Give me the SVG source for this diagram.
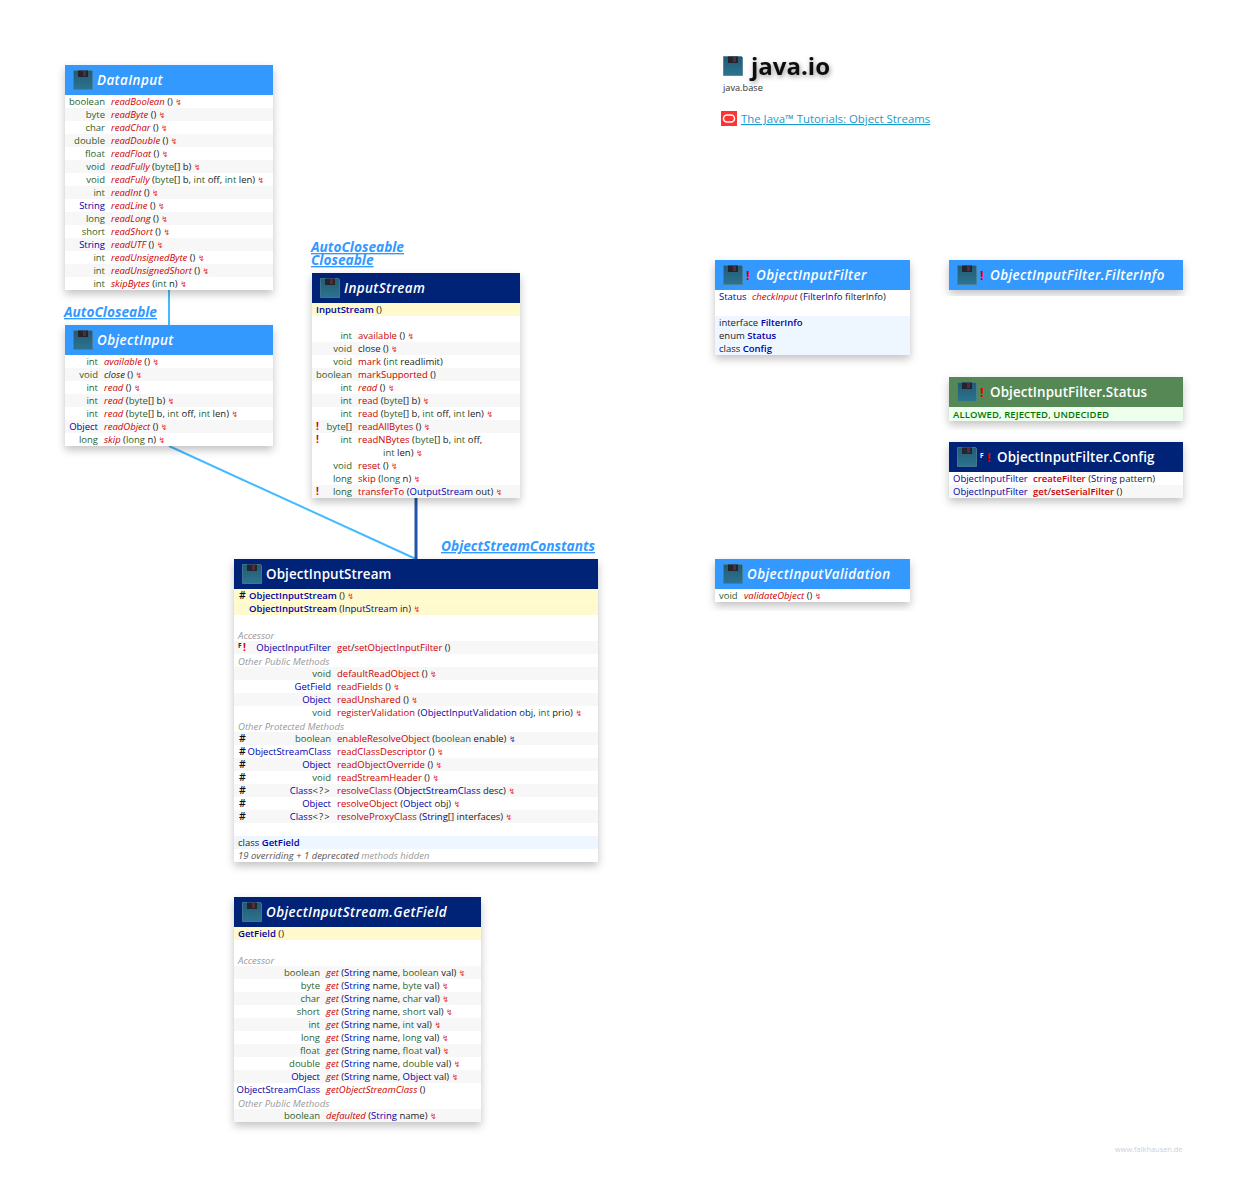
<svg xmlns="http://www.w3.org/2000/svg" width="1239" height="1195" viewBox="0 0 1239 1195">
<style>
text{font-family:"Open Sans","Noto Sans","Liberation Sans",sans-serif;font-size:9.5px;fill:#222}
.t{fill:#2b632b;text-anchor:end}.r{fill:#0000aa}.re{fill:#0000aa;text-anchor:end}
tspan.t{text-anchor:start}
.m{fill:#cc0000}.i{font-style:italic}.b{font-weight:600}
.g{fill:#2b632b}
.z{fill:#e8333c;font-family:"DejaVu Sans",sans-serif;font-size:8px}
.zb{fill:#3344aa;font-family:"DejaVu Sans",sans-serif;font-size:8px}
.h{font-size:13.4px;font-weight:600;fill:#fff;letter-spacing:.1px}
.h.i{letter-spacing:.42px}
.ex{font-size:12px;font-weight:700;fill:#e00000}
.c{fill:#999;font-style:italic;font-size:9.6px}
.l{font-size:13.7px;font-weight:700;font-style:italic;fill:#3399ff;text-decoration:underline}
.s{fill:#f7f7f7}.y{fill:#fffacd}.n{fill:#eef6ff}
.hash{font-size:10.5px;font-weight:600;fill:#111}
.lb{fill:#3399ff}.dk{fill:#002277}.gr{fill:#558855}
.box{fill:#fff;filter:url(#sh)}
.sp{letter-spacing:1.2px}
</style>
<defs>
<filter id="sh" x="-15%" y="-15%" width="130%" height="135%"><feDropShadow dx="0" dy="4" stdDeviation="4" flood-color="#000" flood-opacity=".24"/></filter>
<filter id="ts" x="-20%" y="-40%" width="140%" height="200%"><feDropShadow dx="1" dy="2" stdDeviation="2.5" flood-color="#000" flood-opacity=".4"/></filter>
<linearGradient id="fl" x1="0" y1="0" x2="0" y2="1"><stop offset="0" stop-color="#235a74"/><stop offset="1" stop-color="#2c7490"/></linearGradient>
<symbol id="disk" viewBox="0 0 20 20" overflow="visible">
<path d="M0.5 0.5H18.5L19.5 1.5V19.5H0.5Z" fill="url(#fl)" stroke="#4d7f92" stroke-width=".8"/>
<rect x="5" y="0.5" width="10" height="6.5" fill="#24242f"/>
<rect x="10" y="1" width="3" height="5" fill="#5a2a3a"/>
</symbol>
</defs>

<g id="connectors" fill="none">
<line x1="169" y1="290" x2="169" y2="325" stroke="#44bbff" stroke-width="2"/>
<line x1="169" y1="446" x2="416" y2="559" stroke="#44bbff" stroke-width="2"/>
<line x1="416" y1="498" x2="416" y2="559" stroke="#2255aa" stroke-width="3"/>
</g>

<g id="title">
<use href="#disk" x="723" y="56" width="20" height="20"/>
<text x="751" y="75" style="font-size:24px;font-weight:700;fill:#111;filter:url(#ts)">java.io</text>
<text x="723" y="91" style="font-size:9.2px;fill:#333">java.base</text>
<rect x="721" y="111" width="16" height="15" fill="#f33"/>
<rect x="723.5" y="115" width="11" height="7" rx="3.5" fill="none" stroke="#fff" stroke-width="1.5"/>
<text x="741" y="123" style="font-size:11.4px;fill:#1a9acc;text-decoration:underline">The Java™ Tutorials: Object Streams</text>
</g>

<g id="DataInput">
<rect class="box" x="65" y="65" width="208" height="225"/>
<rect class="lb" x="65" y="65" width="208" height="30"/>
<use href="#disk" x="73" y="70" width="20" height="20"/>
<text class="h i" x="97" y="85">DataInput</text>
<rect class="s" x="65" y="108" width="208" height="13"/><rect class="s" x="65" y="134" width="208" height="13"/><rect class="s" x="65" y="160" width="208" height="13"/><rect class="s" x="65" y="186" width="208" height="13"/><rect class="s" x="65" y="212" width="208" height="13"/><rect class="s" x="65" y="238" width="208" height="13"/><rect class="s" x="65" y="264" width="208" height="13"/>
<text class="t" x="105" y="105">boolean</text><text x="111" y="105"><tspan class="m i">readBoolean</tspan> () <tspan class="z">↯</tspan></text>
<text class="t" x="105" y="118">byte</text><text x="111" y="118"><tspan class="m i">readByte</tspan> () <tspan class="z">↯</tspan></text>
<text class="t" x="105" y="131">char</text><text x="111" y="131"><tspan class="m i">readChar</tspan> () <tspan class="z">↯</tspan></text>
<text class="t" x="105" y="144">double</text><text x="111" y="144"><tspan class="m i">readDouble</tspan> () <tspan class="z">↯</tspan></text>
<text class="t" x="105" y="157">float</text><text x="111" y="157"><tspan class="m i">readFloat</tspan> () <tspan class="z">↯</tspan></text>
<text class="t" x="105" y="170">void</text><text x="111" y="170"><tspan class="m i">readFully</tspan> (<tspan class="g">byte</tspan>[] b) <tspan class="z">↯</tspan></text>
<text class="t" x="105" y="183">void</text><text x="111" y="183"><tspan class="m i">readFully</tspan> (<tspan class="g">byte</tspan>[] b, <tspan class="g">int</tspan> off, <tspan class="g">int</tspan> len) <tspan class="z">↯</tspan></text>
<text class="t" x="105" y="196">int</text><text x="111" y="196"><tspan class="m i">readInt</tspan> () <tspan class="z">↯</tspan></text>
<text class="re" x="105" y="209">String</text><text x="111" y="209"><tspan class="m i">readLine</tspan> () <tspan class="z">↯</tspan></text>
<text class="t" x="105" y="222">long</text><text x="111" y="222"><tspan class="m i">readLong</tspan> () <tspan class="z">↯</tspan></text>
<text class="t" x="105" y="235">short</text><text x="111" y="235"><tspan class="m i">readShort</tspan> () <tspan class="z">↯</tspan></text>
<text class="re" x="105" y="248">String</text><text x="111" y="248"><tspan class="m i">readUTF</tspan> () <tspan class="z">↯</tspan></text>
<text class="t" x="105" y="261">int</text><text x="111" y="261"><tspan class="m i">readUnsignedByte</tspan> () <tspan class="z">↯</tspan></text>
<text class="t" x="105" y="274">int</text><text x="111" y="274"><tspan class="m i">readUnsignedShort</tspan> () <tspan class="z">↯</tspan></text>
<text class="t" x="105" y="287">int</text><text x="111" y="287"><tspan class="m i">skipBytes</tspan> (<tspan class="g">int</tspan> n) <tspan class="z">↯</tspan></text>
</g>

<g id="ObjectInput">
<text class="l" x="64" y="317">AutoCloseable</text>
<rect class="box" x="65" y="325" width="208" height="121"/>
<rect class="lb" x="65" y="325" width="208" height="30"/>
<use href="#disk" x="73" y="330" width="20" height="20"/>
<text class="h i" x="97" y="345">ObjectInput</text>
<rect class="s" x="65" y="368" width="208" height="13"/><rect class="s" x="65" y="394" width="208" height="13"/><rect class="s" x="65" y="420" width="208" height="13"/>
<text class="t" x="98" y="365">int</text><text x="104" y="365"><tspan class="m i">available</tspan> () <tspan class="z">↯</tspan></text>
<text class="t" x="98" y="378">void</text><text x="104" y="378"><tspan class="i">close</tspan> () <tspan class="z">↯</tspan></text>
<text class="t" x="98" y="391">int</text><text x="104" y="391"><tspan class="m i">read</tspan> () <tspan class="z">↯</tspan></text>
<text class="t" x="98" y="404">int</text><text x="104" y="404"><tspan class="m i">read</tspan> (<tspan class="g">byte</tspan>[] b) <tspan class="z">↯</tspan></text>
<text class="t" x="98" y="417">int</text><text x="104" y="417"><tspan class="m i">read</tspan> (<tspan class="g">byte</tspan>[] b, <tspan class="g">int</tspan> off, <tspan class="g">int</tspan> len) <tspan class="z">↯</tspan></text>
<text class="re" x="98" y="430">Object</text><text x="104" y="430"><tspan class="m i">readObject</tspan> () <tspan class="z">↯</tspan></text>
<text class="t" x="98" y="443">long</text><text x="104" y="443"><tspan class="m i">skip</tspan> (<tspan class="g">long</tspan> n) <tspan class="z">↯</tspan></text>
</g>

<g id="InputStream">
<text class="l" x="311" y="252">AutoCloseable</text>
<text class="l" x="311" y="265">Closeable</text>
<rect class="box" x="312" y="273" width="208" height="225"/>
<rect class="dk" x="312" y="273" width="208" height="30"/>
<use href="#disk" x="320" y="278" width="20" height="20"/>
<text class="h i" x="344" y="293">InputStream</text>
<rect class="y" x="312" y="303" width="208" height="13"/>
<rect class="s" x="312" y="342" width="208" height="13"/><rect class="s" x="312" y="368" width="208" height="13"/><rect class="s" x="312" y="394" width="208" height="13"/><rect class="s" x="312" y="420" width="208" height="13"/><rect class="s" x="312" y="485" width="208" height="13"/>
<text x="316" y="313"><tspan class="r b">InputStream</tspan> ()</text>
<text class="t" x="352" y="339">int</text><text x="358" y="339"><tspan class="m">available</tspan> () <tspan class="z">↯</tspan></text>
<text class="t" x="352" y="352">void</text><text x="358" y="352">close () <tspan class="z">↯</tspan></text>
<text class="t" x="352" y="365">void</text><text x="358" y="365"><tspan class="m">mark</tspan> (<tspan class="g">int</tspan> readlimit)</text>
<text class="t" x="352" y="378">boolean</text><text x="358" y="378"><tspan class="m">markSupported</tspan> ()</text>
<text class="t" x="352" y="391">int</text><text x="358" y="391"><tspan class="m i">read</tspan> () <tspan class="z">↯</tspan></text>
<text class="t" x="352" y="404">int</text><text x="358" y="404"><tspan class="m">read</tspan> (<tspan class="g">byte</tspan>[] b) <tspan class="z">↯</tspan></text>
<text class="t" x="352" y="417">int</text><text x="358" y="417"><tspan class="m">read</tspan> (<tspan class="g">byte</tspan>[] b, <tspan class="g">int</tspan> off, <tspan class="g">int</tspan> len) <tspan class="z">↯</tspan></text>
<text class="ex" x="316" y="430" style="font-size:10px">!</text><text x="352" y="430" text-anchor="end"><tspan class="g">byte</tspan>[]</text><text x="358" y="430"><tspan class="m">readAllBytes</tspan> () <tspan class="z">↯</tspan></text>
<text class="ex" x="316" y="443" style="font-size:10px">!</text><text class="t" x="352" y="443">int</text><text x="358" y="443"><tspan class="m">readNBytes</tspan> (<tspan class="g">byte</tspan>[] b, <tspan class="g">int</tspan> off,</text>
<text x="383" y="456"><tspan class="g">int</tspan> len) <tspan class="z">↯</tspan></text>
<text class="t" x="352" y="469">void</text><text x="358" y="469"><tspan class="m">reset</tspan> () <tspan class="z">↯</tspan></text>
<text class="t" x="352" y="482">long</text><text x="358" y="482"><tspan class="m">skip</tspan> (<tspan class="g">long</tspan> n) <tspan class="z">↯</tspan></text>
<text class="ex" x="316" y="495" style="font-size:10px">!</text><text class="t" x="352" y="495">long</text><text x="358" y="495"><tspan class="m">transferTo</tspan> (<tspan class="r">OutputStream</tspan> out) <tspan class="z">↯</tspan></text>
</g>

<g id="ObjectInputStream">
<text class="l" x="441" y="551">ObjectStreamConstants</text>
<rect class="box" x="234" y="559" width="364" height="303"/>
<rect class="dk" x="234" y="559" width="364" height="30"/>
<use href="#disk" x="242" y="564" width="20" height="20"/>
<text class="h" x="266" y="579">ObjectInputStream</text>
<rect class="y" x="234" y="589" width="364" height="12.5"/><rect class="y" x="234" y="602" width="364" height="13"/>
<rect class="s" x="234" y="641" width="364" height="13"/><rect class="s" x="234" y="667" width="364" height="13"/><rect class="s" x="234" y="693" width="364" height="13"/><rect class="s" x="234" y="732" width="364" height="13"/><rect class="s" x="234" y="758" width="364" height="13"/><rect class="s" x="234" y="784" width="364" height="13"/><rect class="s" x="234" y="810" width="364" height="13"/>
<rect class="n" x="234" y="836" width="364" height="13"/>
<text class="hash" x="239" y="599">#</text><text x="249" y="599"><tspan class="r b">ObjectInputStream</tspan> () <tspan class="z">↯</tspan></text>
<text x="249" y="612"><tspan class="r b">ObjectInputStream</tspan> (<tspan class="r">InputStream</tspan> in) <tspan class="z">↯</tspan></text>
<text class="c" x="238" y="639">Accessor</text>
<text x="238" y="648" style="font-size:6.5px;font-weight:700">F</text><text class="ex" x="243" y="651" style="font-size:10px">!</text>
<text class="re" x="331" y="651">ObjectInputFilter</text><text x="337" y="651"><tspan class="m">get</tspan>/<tspan class="m">setObjectInputFilter</tspan> ()</text>
<text class="c" x="238" y="665">Other Public Methods</text>
<text class="t" x="331" y="677">void</text><text x="337" y="677"><tspan class="m">defaultReadObject</tspan> () <tspan class="z">↯</tspan></text>
<text class="re" x="331" y="690">GetField</text><text x="337" y="690"><tspan class="m">readFields</tspan> () <tspan class="z">↯</tspan></text>
<text class="re" x="331" y="703">Object</text><text x="337" y="703"><tspan class="m">readUnshared</tspan> () <tspan class="z">↯</tspan></text>
<text class="t" x="331" y="716">void</text><text x="337" y="716"><tspan class="m">registerValidation</tspan> (<tspan class="r">ObjectInputValidation</tspan> obj, <tspan class="g">int</tspan> prio) <tspan class="z">↯</tspan></text>
<text class="c" x="238" y="730">Other Protected Methods</text>
<text class="hash" x="239" y="742">#</text><text class="t" x="331" y="742">boolean</text><text x="337" y="742"><tspan class="m">enableResolveObject</tspan> (<tspan class="g">boolean</tspan> enable) <tspan class="zb">↯</tspan></text>
<text class="hash" x="239" y="755">#</text><text class="re" x="331" y="755">ObjectStreamClass</text><text x="337" y="755"><tspan class="m">readClassDescriptor</tspan> () <tspan class="z">↯</tspan></text>
<text class="hash" x="239" y="768">#</text><text class="re" x="331" y="768">Object</text><text x="337" y="768"><tspan class="m">readObjectOverride</tspan> () <tspan class="z">↯</tspan></text>
<text class="hash" x="239" y="781">#</text><text class="t" x="331" y="781">void</text><text x="337" y="781"><tspan class="m">readStreamHeader</tspan> () <tspan class="z">↯</tspan></text>
<text class="hash" x="239" y="794">#</text><text x="331" y="794" text-anchor="end"><tspan class="r">Class</tspan><tspan class="sp">&lt;?&gt;</tspan></text><text x="337" y="794"><tspan class="m">resolveClass</tspan> (<tspan class="r">ObjectStreamClass</tspan> desc) <tspan class="z">↯</tspan></text>
<text class="hash" x="239" y="807">#</text><text class="re" x="331" y="807">Object</text><text x="337" y="807"><tspan class="m">resolveObject</tspan> (<tspan class="r">Object</tspan> obj) <tspan class="z">↯</tspan></text>
<text class="hash" x="239" y="820">#</text><text x="331" y="820" text-anchor="end"><tspan class="r">Class</tspan><tspan class="sp">&lt;?&gt;</tspan></text><text x="337" y="820"><tspan class="m">resolveProxyClass</tspan> (<tspan class="r">String</tspan>[] interfaces) <tspan class="z">↯</tspan></text>
<text x="238" y="846">class <tspan class="r b">GetField</tspan></text>
<text x="238" y="859" class="i" style="fill:#555">19 overriding + 1 deprecated <tspan style="fill:#999">methods hidden</tspan></text>
</g>

<g id="ObjectInputStream.GetField">
<rect class="box" x="234" y="897" width="247" height="225"/>
<rect class="dk" x="234" y="897" width="247" height="30"/>
<use href="#disk" x="242" y="902" width="20" height="20"/>
<text class="h i" x="266" y="917">ObjectInputStream.GetField</text>
<rect class="y" x="234" y="927" width="247" height="13"/>
<rect class="s" x="234" y="966" width="247" height="13"/><rect class="s" x="234" y="992" width="247" height="13"/><rect class="s" x="234" y="1018" width="247" height="13"/><rect class="s" x="234" y="1044" width="247" height="13"/><rect class="s" x="234" y="1070" width="247" height="13"/><rect class="s" x="234" y="1109" width="247" height="13"/>
<text x="238" y="937"><tspan class="r b">GetField</tspan> ()</text>
<text class="c" x="238" y="964">Accessor</text>
<text class="t" x="320" y="976">boolean</text><text x="326" y="976"><tspan class="m i">get</tspan> (<tspan class="r">String</tspan> name, <tspan class="g">boolean</tspan> val) <tspan class="z">↯</tspan></text>
<text class="t" x="320" y="989">byte</text><text x="326" y="989"><tspan class="m i">get</tspan> (<tspan class="r">String</tspan> name, <tspan class="g">byte</tspan> val) <tspan class="z">↯</tspan></text>
<text class="t" x="320" y="1002">char</text><text x="326" y="1002"><tspan class="m i">get</tspan> (<tspan class="r">String</tspan> name, <tspan class="g">char</tspan> val) <tspan class="z">↯</tspan></text>
<text class="t" x="320" y="1015">short</text><text x="326" y="1015"><tspan class="m i">get</tspan> (<tspan class="r">String</tspan> name, <tspan class="g">short</tspan> val) <tspan class="z">↯</tspan></text>
<text class="t" x="320" y="1028">int</text><text x="326" y="1028"><tspan class="m i">get</tspan> (<tspan class="r">String</tspan> name, <tspan class="g">int</tspan> val) <tspan class="z">↯</tspan></text>
<text class="t" x="320" y="1041">long</text><text x="326" y="1041"><tspan class="m i">get</tspan> (<tspan class="r">String</tspan> name, <tspan class="g">long</tspan> val) <tspan class="z">↯</tspan></text>
<text class="t" x="320" y="1054">float</text><text x="326" y="1054"><tspan class="m i">get</tspan> (<tspan class="r">String</tspan> name, <tspan class="g">float</tspan> val) <tspan class="z">↯</tspan></text>
<text class="t" x="320" y="1067">double</text><text x="326" y="1067"><tspan class="m i">get</tspan> (<tspan class="r">String</tspan> name, <tspan class="g">double</tspan> val) <tspan class="z">↯</tspan></text>
<text class="re" x="320" y="1080">Object</text><text x="326" y="1080"><tspan class="m i">get</tspan> (<tspan class="r">String</tspan> name, <tspan class="r">Object</tspan> val) <tspan class="z">↯</tspan></text>
<text class="re" x="320" y="1093">ObjectStreamClass</text><text x="326" y="1093"><tspan class="m i">getObjectStreamClass</tspan> ()</text>
<text class="c" x="238" y="1107">Other Public Methods</text>
<text class="t" x="320" y="1119">boolean</text><text x="326" y="1119"><tspan class="m i">defaulted</tspan> (<tspan class="r">String</tspan> name) <tspan class="z">↯</tspan></text>
</g>

<g id="ObjectInputFilter">
<rect class="box" x="715" y="260" width="195" height="95"/>
<rect class="lb" x="715" y="260" width="195" height="30"/>
<use href="#disk" x="723" y="265" width="20" height="20"/>
<text class="ex" x="746" y="280" style="font-size:13px">!</text>
<text class="h i" x="756" y="280">ObjectInputFilter</text>
<rect class="n" x="715" y="316" width="195" height="39"/>
<text class="r" x="719" y="300">Status</text><text x="752" y="300"><tspan class="m i">checkInput</tspan> (<tspan class="r">FilterInfo</tspan> filterInfo)</text>
<text x="719" y="326">interface <tspan class="r b">FilterInfo</tspan></text>
<text x="719" y="339">enum <tspan class="r b">Status</tspan></text>
<text x="719" y="352">class <tspan class="r b">Config</tspan></text>
</g>

<g id="ObjectInputFilter.FilterInfo">
<rect class="box" x="949" y="260" width="234" height="30"/>
<rect class="lb" x="949" y="260" width="234" height="30"/>
<use href="#disk" x="957" y="265" width="20" height="20"/>
<text class="ex" x="980" y="280" style="font-size:13px">!</text>
<text class="h i" x="990" y="280">ObjectInputFilter.FilterInfo</text>
</g>

<g id="ObjectInputFilter.Status">
<rect class="box" x="949" y="377" width="234" height="44"/>
<rect class="gr" x="949" y="377" width="234" height="30"/>
<use href="#disk" x="957" y="382" width="20" height="20"/>
<text class="ex" x="980" y="397" style="font-size:13px">!</text>
<text class="h" x="990" y="397">ObjectInputFilter.Status</text>
<rect x="949" y="407" width="234" height="14" fill="#eeffee"/>
<text x="953" y="418" style="letter-spacing:.1px"><tspan class="b" style="fill:#007700">ALLOWED</tspan>, <tspan class="b" style="fill:#007700">REJECTED</tspan>, <tspan class="b" style="fill:#007700">UNDECIDED</tspan></text>
</g>

<g id="ObjectInputFilter.Config">
<rect class="box" x="949" y="442" width="234" height="56"/>
<rect class="dk" x="949" y="442" width="234" height="30"/>
<use href="#disk" x="957" y="447" width="20" height="20"/>
<text x="980" y="458" style="font-size:6.5px;font-weight:700;fill:#fff">F</text>
<text class="ex" x="987" y="462" style="font-size:13px">!</text>
<text class="h" x="997" y="462">ObjectInputFilter.Config</text>
<rect class="s" x="949" y="485" width="234" height="13"/>
<text class="r" x="953" y="482">ObjectInputFilter</text><text x="1033" y="482"><tspan class="m b">createFilter</tspan> (<tspan class="r">String</tspan> pattern)</text>
<text class="r" x="953" y="495">ObjectInputFilter</text><text x="1033" y="495"><tspan class="m b">get</tspan>/<tspan class="m b">setSerialFilter</tspan> ()</text>
</g>

<g id="ObjectInputValidation">
<rect class="box" x="715" y="559" width="195" height="43"/>
<rect class="lb" x="715" y="559" width="195" height="30"/>
<use href="#disk" x="723" y="564" width="20" height="20"/>
<text class="h i" x="747" y="579">ObjectInputValidation</text>
<text class="g" x="719" y="599">void</text><text x="744" y="599"><tspan class="m i">validateObject</tspan> () <tspan class="z">↯</tspan></text>
</g>

<text id="footer" x="1115" y="1152" style="font-size:7.4px;fill:#ccd0dd">www.falkhausen.de</text>
</svg>
